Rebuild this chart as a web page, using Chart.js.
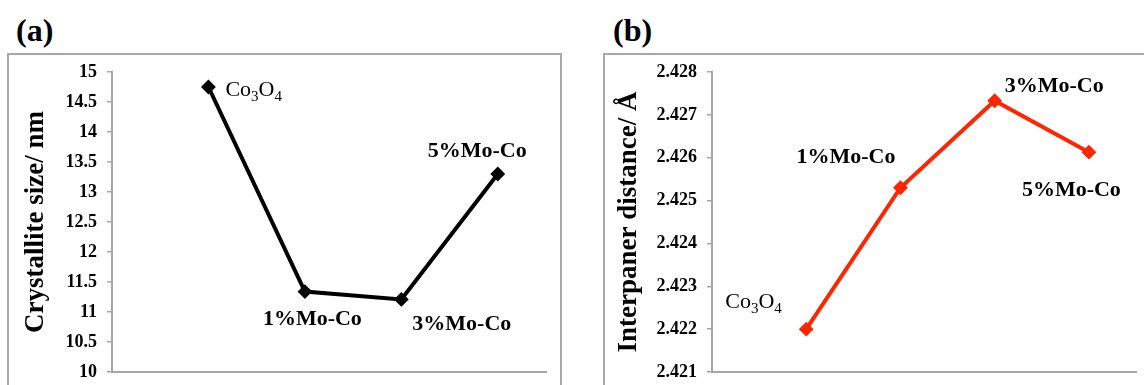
<!DOCTYPE html>
<html>
<head>
<meta charset="utf-8">
<script src="https://cdn.jsdelivr.net/npm/chart.js@4.4.1/dist/chart.umd.min.js"></script>
<style>
  body { margin: 0; background: #fff; width: 1144px; height: 385px; overflow: hidden; position: relative; font-family: "Liberation Serif", serif; }
  .tag { position: absolute; font-weight: bold; font-size: 32px; line-height: 1; color: #000; }
  .frame { position: absolute; border: 2px solid #a8a8a8; box-sizing: border-box; }
  canvas { position: absolute; top: 0; }
</style>
</head>
<body>
<div class="frame" style="left:7px;top:53px;width:555px;height:400px"></div>
<div class="frame" style="left:603px;top:53px;width:600px;height:400px"></div>
<div class="tag" style="left:16px;top:14px">(a)</div>
<div class="tag" style="left:613px;top:14px">(b)</div>
<canvas id="chartA" width="580" height="385" style="left:0"></canvas>
<canvas id="chartB" width="564" height="385" style="left:580px"></canvas>
<script>
// samples, in order along the x axis
const sampleNames = ["Co3O4", "1%Mo-Co", "3%Mo-Co", "5%Mo-Co"];
const samplePos = [1, 2, 3, 4];
// (a) crystallite size, nm
const crystalliteSize = [14.75, 11.34, 11.21, 13.3];
// (b) interplanar distance, angstrom
const interplanarDist = [2.4220, 2.4253, 2.42733, 2.42613];

const sizeAxis = { min: 10, max: 15, step: 0.5 };
const distAxis = { min: 2.421, max: 2.428, step: 0.001 };

const FONT = "'Liberation Serif', 'Times New Roman', serif";
const AXIS_GREY = "#a6a6a6";

// draws "Co3O4" with subscripts, other names in bold
function drawName(ctx, name, x, y) {
  ctx.save();
  ctx.fillStyle = "#000";
  ctx.textBaseline = "alphabetic";
  ctx.textAlign = "left";
  if (name === "Co3O4") {
    const parts = [["Co", 0], ["3", 1], ["O", 0], ["4", 1]];
    let cx = x;
    parts.forEach(([t, sub]) => {
      ctx.font = sub ? "15px " + FONT : "22px " + FONT;
      ctx.fillText(t, cx, y + (sub ? 5 : 0));
      cx += ctx.measureText(t).width;
    });
  } else {
    ctx.font = "bold 22px " + FONT;
    ctx.fillText(name, x, y);
  }
  ctx.restore();
}

const nameLabels = {
  id: "nameLabels",
  afterDatasetsDraw(chart, args, opts) {
    const meta = chart.getDatasetMeta(0);
    meta.data.forEach((pt, i) => {
      const off = opts.offsets[i];
      drawName(chart.ctx, sampleNames[i], pt.x + off[0], pt.y + off[1]);
    });
  }
};

function makeChart(id, values, color, yRange, title, axisLeft, padRight, titlePad, offsets) {
  return new Chart(document.getElementById(id), {
    type: "line",
    data: {
      datasets: [{
        data: samplePos.map((x, i) => ({ x: x, y: values[i] })),
        borderColor: color,
        backgroundColor: color,
        borderWidth: 4,
        pointStyle: "rectRot",
        pointRadius: 6,
        pointBorderWidth: 2,
        tension: 0
      }]
    },
    options: {
      responsive: false,
      animation: false,
      devicePixelRatio: 1,
      layout: { padding: { left: 0, right: padRight, top: 72, bottom: 13 } },
      plugins: {
        legend: { display: false },
        tooltip: { enabled: false },
        nameLabels: { offsets: offsets }
      },
      scales: {
        x: {
          type: "linear",
          min: 0,
          max: 4.5,
          ticks: { display: false },
          grid: { display: false },
          border: { display: true, color: AXIS_GREY, width: 2 },
          afterFit(s) { s.height = 0; }
        },
        y: {
          type: "linear",
          min: yRange.min,
          max: yRange.max,
          ticks: {
            stepSize: yRange.step,
            color: "#000",
            padding: 10,
            font: { family: FONT, size: 18, weight: "bold" },
            callback: (v) => String(Number(v.toFixed(4)))
          },
          grid: { drawOnChartArea: false, drawTicks: true, tickLength: 5, color: AXIS_GREY, lineWidth: 1.5 },
          border: { display: true, color: AXIS_GREY, width: 2 },
          title: {
            display: true,
            text: title,
            color: "#000",
            padding: { top: titlePad, bottom: 0 },
            font: { family: FONT, size: 27, weight: "bold" }
          },
          afterFit(s) {
            s.width = axisLeft;
            s.paddingTop = 0;
            s.paddingBottom = 0;
          }
        }
      }
    },
    plugins: [nameLabels]
  });
}

makeChart("chartA", crystalliteSize, "#000000", sizeAxis, "Crystallite size/ nm", 112, 34, 20,
  [[17, 9], [-42, 33], [11, 31], [-70, -17]]);
makeChart("chartB", interplanarDist, "#ff2500", distAxis, "Interpaner distance/ Å", 132, 4, 33,
  [[-81, -21], [-104, -25], [10, -9], [-67, 44]]);
</script>
</body>
</html>
